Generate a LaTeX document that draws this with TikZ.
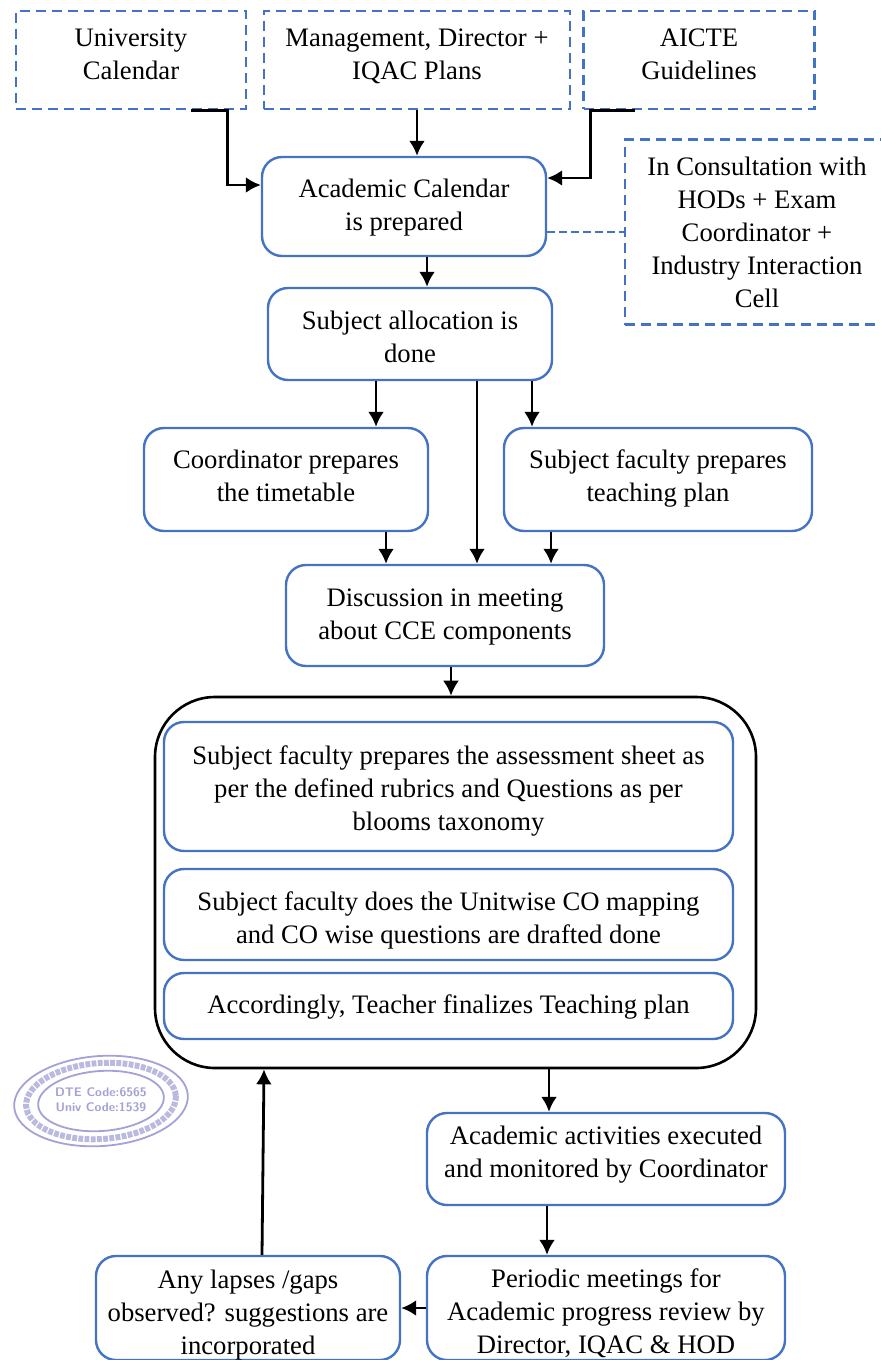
\documentclass[tikz,border=0pt]{standalone}
\usepackage{fontspec}
\setmainfont{Liberation Serif}
\usetikzlibrary{positioning}
\usetikzlibrary{arrows.meta}
\definecolor{boxblue}{HTML}{4472C4}
\definecolor{stampblue}{HTML}{A3A1D6}
\newcommand{\pushdn}[1]{\rule{0pt}{#1pt}}

\begin{document}
\begin{tikzpicture}[x=0.5pt, y=-0.5pt,
	txt/.style={font=\fontsize{13.33}{16.5}\selectfont, align=center, inner sep=0pt},
	size/.style 2 args={minimum width=#1*0.5pt, minimum height=#2*0.5pt},
	stepbox/.style={txt, draw=boxblue, line width=1.2pt, rounded corners=10pt},
	dashbox/.style={txt, draw=boxblue, line width=1.2pt, dash pattern=on 5pt off 3pt},
	flow/.style={draw=black, line width=1.4pt, -{Latex[length=7.5pt,width=8pt]}},
	]
	\useasboundingbox (0,0) rectangle (881,1360);

	% Inputs on top
	\node[dashbox, size={230}{98}] (univ) at (131,60) {University\\Calendar\\[-11pt]};
	\node[dashbox, size={306}{98}] (mgmt) at (417,60) {Management, Director +\\IQAC Plans\\[-11pt]};
	\node[dashbox, size={231}{98}] (aicte) at (699,60) {AICTE\\Guidelines\\[-11pt]};
	\node[dashbox, size={264}{185}] (consult) at (757,232) {\pushdn{10}In Consultation with\\HODs + Exam\\Coordinator +\\Industry Interaction\\Cell};

	% Main steps
	\node[stepbox, size={284}{99}] (calendar) at (404,206.5) {\pushdn{10}Academic Calendar\\is prepared};
	\node[stepbox, size={284}{92}] (alloc) at (410,334) {\pushdn{12}Subject allocation is\\done};
	\node[stepbox, size={284}{103}] (timetable) at (286,479.5) {Coordinator prepares\\the timetable\\[-13pt]};
	\node[stepbox, size={308}{103}] (plan) at (658,479.5) {Subject faculty prepares\\teaching plan\\[-13pt]};
	\node[stepbox, size={318}{101}] (discuss) at (445,615.5) {\pushdn{10}Discussion in meeting\\about CCE components};

	% Outer frame with its three steps
	\node[txt, draw=black, line width=1.3pt, rounded corners=30pt, size={601}{371}] (frame) at (455.5,882.5) {};
	\node[stepbox, size={569}{129}] (sheet) at (448.5,786.5) {\pushdn{14}Subject faculty prepares the assessment sheet as\\per the defined rubrics and Questions as per\\blooms taxonomy};
	\node[stepbox, size={569}{91}] (mapping) at (448.5,914.5) {\pushdn{15}Subject faculty does the Unitwise CO mapping\\and CO wise questions are drafted done};
	\node[stepbox, size={569}{66}] (final) at (448.5,1006) {\pushdn{10}Accordingly, Teacher finalizes Teaching plan};

	% Lower steps
	\node[stepbox, size={358}{92}] (execute) at (606,1159) {Academic activities executed\\and monitored by Coordinator\\[-9.5pt]};
	\node[stepbox, size={358}{104}] (review) at (606,1308) {\pushdn{15}Periodic meetings for\\Academic progress review by\\Director, IQAC \& HOD};
	\node[stepbox, size={304}{104}] (lapses) at (248,1308) {\pushdn{16}Any lapses /gaps\\observed? suggestions are\\incorporated};

	% Stamp
	\begin{scope}[shift={(101,1101)}, rotate=4, stampblue]
		\draw[line width=0.9pt] (0,0) ellipse [x radius=87, y radius=45];
		\draw[line width=0.9pt] (0,0) ellipse [x radius=63, y radius=30];
		\draw[line width=3pt, dash pattern=on 2.4pt off 0.7pt, opacity=0.75] (0,0) ellipse [x radius=75, y radius=38];
		\node[font=\fontsize{6.2}{7.6}\selectfont\sffamily\bfseries, align=center, inner sep=0pt] (code) at (0,-1) {DTE Code:6565\\Univ Code:1539};
	\end{scope}

	% Connectors
	\draw[flow] ([xshift=-28pt]univ.south east) -- ([xshift=-10pt]univ.south east) |- ([yshift=10.75pt]calendar.west);
	\draw[flow] (mgmt.south) -- (mgmt.south |- calendar.north);
	\draw[flow] ([xshift=-90.5pt]aicte.south east) -- ([xshift=-112.5pt]aicte.south east) |- ([yshift=14.25pt]calendar.east);
	\draw[boxblue, line width=0.8pt, dash pattern=on 4pt off 2pt] ([yshift=-12.75pt]calendar.east) -- ([yshift=-12.75pt]calendar.east -| consult.west);
	\draw[flow] ([xshift=11.5pt]calendar.south) -- ([xshift=11.5pt]calendar.south |- alloc.north);
	\draw[flow] ([xshift=-17pt]alloc.south) -- ([xshift=-17pt]alloc.south |- timetable.north);
	\draw[flow] ([xshift=33.5pt]alloc.south) -- ([xshift=33.5pt]alloc.south |- discuss.north);
	\draw[flow] ([xshift=61pt]alloc.south) -- ([xshift=61pt]alloc.south |- plan.north);
	\draw[flow] ([xshift=50pt]timetable.south) -- ([xshift=50pt]timetable.south |- discuss.north);
	\draw[flow] ([xshift=-53.5pt]plan.south) -- ([xshift=-53.5pt]plan.south |- discuss.north);
	\draw[flow] ([xshift=3pt]discuss.south) -- ([xshift=3pt]discuss.south |- frame.north);
	\draw[flow] ([xshift=-28.5pt]execute.north |- frame.south) -- ([xshift=-28.5pt]execute.north);
	\draw[flow] ([xshift=-29.5pt]execute.south) -- ([xshift=-29.5pt]execute.south |- review.north);
	\draw[flow] (review.west) -- (lapses.east);
	\draw[flow] ([xshift=7pt]lapses.north) -- ([xshift=8pt]lapses.north |- frame.south);
\end{tikzpicture}
\end{document}
